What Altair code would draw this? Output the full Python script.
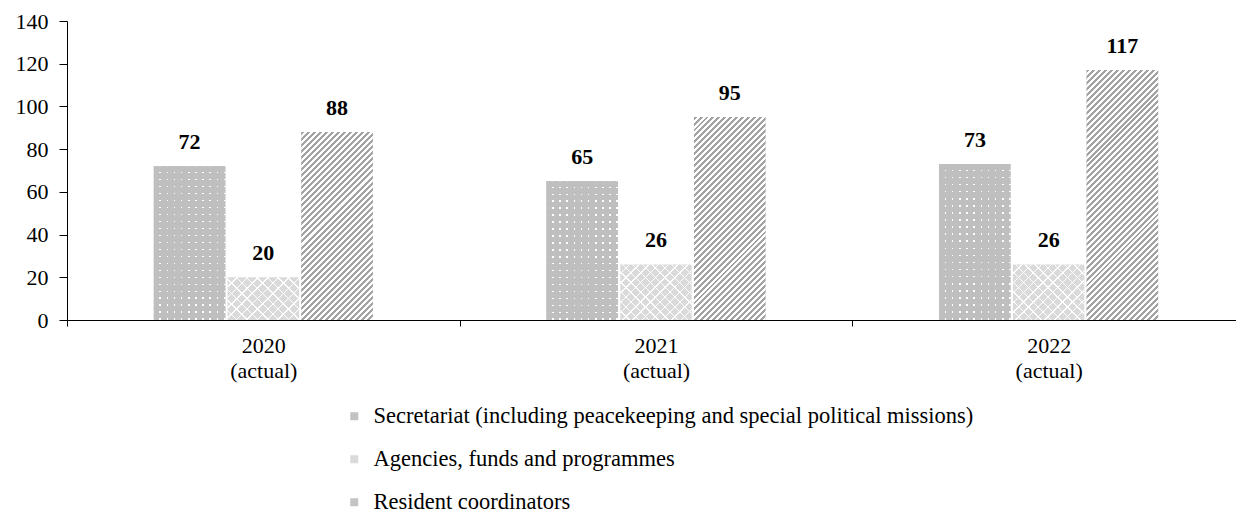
import altair as alt
import pandas as pd

years = ["2020 (actual)", "2021 (actual)", "2022 (actual)"]
series = [
    "Secretariat (including peacekeeping and special political missions)",
    "Agencies, funds and programmes",
    "Resident coordinators",
]
secretariat = [72, 65, 73]
agencies = [20, 26, 26]
resident = [88, 95, 117]
y_ticks = [0, 20, 40, 60, 80, 100, 120, 140]
legend_colors = ["#c3c3c3", "#dadada", "#c4c4c4"]

FONT = "Liberation Serif"
PLOT_W, PLOT_H, Y_MAX = 1169, 299, 140
BAND = 1178 / 3
offset_domain = ["_left"] + series + ["_right"]
OFF_PI, OFF_PO = 0.03, 0.178
BAR_W = BAND / (len(offset_domain) - OFF_PI + 2 * OFF_PO) * (1 - OFF_PI)

rows = []
for i, yr in enumerate(years):
    for s, vals in zip(series, [secretariat, agencies, resident]):
        rows.append({"year": yr, "series": s, "value": vals[i]})
df = pd.DataFrame(rows)

x_scale = alt.Scale(domain=years, range=[0, 1178], paddingInner=0, paddingOuter=0)
off_scale = alt.Scale(domain=offset_domain, paddingInner=OFF_PI, paddingOuter=OFF_PO)
y_scale = alt.Scale(domain=[0, Y_MAX], nice=False)

x_enc = alt.X(
    "year:N",
    scale=x_scale,
    axis=alt.Axis(
        title=None,
        labelAngle=0,
        labelExpr="split(datum.label, ' ')",
        tickBand="extent",
        tickSize=6,
        labelPadding=9,
        labelFont=FONT,
        labelFontSize=22,
        labelLineHeight=25,
        labelColor="#000000",
        domainColor="#000000",
        tickColor="#000000",
    ),
)
y_enc = alt.Y(
    "value:Q",
    scale=y_scale,
    axis=alt.Axis(
        title=None,
        values=y_ticks,
        grid=False,
        tickSize=8,
        labelPadding=11,
        labelFont=FONT,
        labelFontSize=22,
        labelColor="#000000",
        domainColor="#000000",
        tickColor="#000000",
    ),
)


# ---- fill patterns built from linear gradients (style only) ----
def stripe_stops(n_periods, duty, c_on, c_off):
    stops = []
    dt = 1.0 / n_periods
    for k in range(n_periods):
        a = k * dt
        b = a + duty * dt
        stops += [
            {"offset": round(a, 5), "color": c_on},
            {"offset": round(b, 5), "color": c_on},
            {"offset": round(b, 5), "color": c_off},
            {"offset": round(min(a + dt, 1.0), 5), "color": c_off},
        ]
    return stops


def diag(w, h, period_h, duty, c_on, c_off, rising=True):
    r = h / w
    s = (1 + r) / (1 + r * r)
    n = max(1, int(round((w + h) / period_h)))
    g = {"gradient": "linear", "stops": stripe_stops(n, duty, c_on, c_off)}
    if rising:
        g.update({"x1": 0, "y1": 0, "x2": s, "y2": s * r})
    else:
        g.update({"x1": 0, "y1": 1, "x2": s, "y2": 1 - s * r})
    return g


def straight(length, period, duty, c_on, c_off, vertical_lines=True):
    n = max(1, int(round(length / period)))
    g = {"gradient": "linear", "stops": stripe_stops(n, duty, c_on, c_off)}
    if vertical_lines:
        g.update({"x1": 0, "y1": 0, "x2": 1, "y2": 0})
    else:
        g.update({"x1": 0, "y1": 0, "x2": 0, "y2": 1})
    return g


CLEAR = "rgba(255,255,255,0)"

base = alt.Chart(df).mark_bar().encode(
    x=x_enc,
    xOffset=alt.XOffset("series:N", scale=off_scale),
    y=y_enc,
    color=alt.Color(
        "series:N",
        scale=alt.Scale(domain=series, range=legend_colors),
        legend=alt.Legend(
            orient="none",
            legendX=276,
            legendY=384,
            direction="vertical",
            title=None,
            symbolType="square",
            symbolSize=64,
            symbolStrokeWidth=0,
            labelFont=FONT,
            labelFontSize=22.5,
            labelColor="#000000",
            labelLimit=0,
            labelOffset=8,
            rowPadding=20,
            padding=0,
        ),
    ),
)

layers = [base]
for i, yr in enumerate(years):
    for s_idx, vals in enumerate([secretariat, agencies, resident]):
        h = vals[i] * PLOT_H / Y_MAX
        if s_idx == 0:
            fills = [
                straight(BAR_W, 7.3, 0.78, "#bfbfbf", "#ffffff", True),
                straight(h, 7.0, 0.78, "#bfbfbf", CLEAR, False),
            ]
        elif s_idx == 1:
            fills = [
                diag(BAR_W, h, 10, 0.86, CLEAR, "#ffffff", True),
                diag(BAR_W, h, 10, 0.86, CLEAR, "#ffffff", False),
            ]
        else:
            fills = [diag(BAR_W, h, 6, 0.5, "#a3a3a3", "#ffffff", True)]
        for f in fills:
            layers.append(
                alt.Chart(df)
                .transform_filter(
                    (alt.datum.year == yr) & (alt.datum.series == series[s_idx])
                )
                .mark_bar(fill=f, strokeWidth=0)
                .encode(
                    x=alt.X("year:N", scale=x_scale),
                    xOffset=alt.XOffset("series:N", scale=off_scale),
                    y=alt.Y("value:Q", scale=y_scale),
                )
            )

labels = alt.Chart(df).mark_text(
    dy=-17, baseline="alphabetic", fontWeight="bold", fontSize=22, font=FONT, color="#000000"
).encode(
    x=alt.X("year:N", scale=x_scale),
    xOffset=alt.XOffset("series:N", scale=off_scale),
    y=alt.Y("value:Q", scale=y_scale),
    text=alt.Text("value:Q"),
)
layers.append(labels)

chart = (
    alt.layer(*layers)
    .properties(
        width=PLOT_W,
        height=PLOT_H,
        padding={"left": 67, "top": 21, "right": 0, "bottom": 194},
        autosize="none",
        background="#ffffff",
    )
    .configure_view(stroke=None)
)

chart.save("out.html", embed_options={"renderer": "svg", "actions": False})
